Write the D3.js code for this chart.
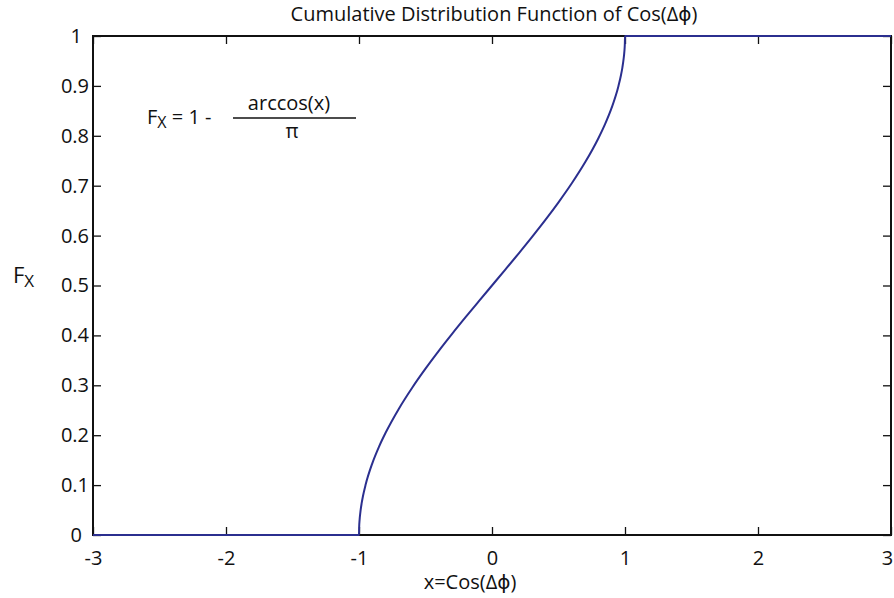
<!DOCTYPE html>
<html>
<head>
<meta charset="utf-8">
<script src="https://cdn.jsdelivr.net/npm/d3@7"></script>
<style>
  html, body { margin: 0; padding: 0; background: #fff; }
  svg text { font-family: "Open Sans", "DejaVu Sans", sans-serif; fill: #111; }
</style>
</head>
<body>
<svg id="chart" width="894" height="598"></svg>
<script>
// CDF of cos(Δϕ): sampled points of the curve
const xValues = [-3, -1, -0.999, -0.995, -0.99, -0.98, -0.97, -0.95, -0.9, -0.85, -0.8, -0.7, -0.6, -0.5, -0.4, -0.3, -0.2, -0.1,
                 0, 0.1, 0.2, 0.3, 0.4, 0.5, 0.6, 0.7, 0.8, 0.85, 0.9, 0.95, 0.97, 0.98, 0.99, 0.995, 0.999, 1, 3];
const yValues = [0, 0, 0.0142, 0.0319, 0.0450, 0.0638, 0.0782, 0.1011, 0.1436, 0.1766, 0.2048, 0.2532, 0.2952, 0.3333, 0.3690, 0.4030, 0.4359, 0.4681,
                 0.5, 0.5319, 0.5641, 0.5970, 0.6310, 0.6667, 0.7048, 0.7468, 0.7952, 0.8234, 0.8564, 0.8989, 0.9218, 0.9362, 0.9550, 0.9681, 0.9858, 1, 1];
const xTicks = [-3, -2, -1, 0, 1, 2, 3];
const yTicks = [0, 0.1, 0.2, 0.3, 0.4, 0.5, 0.6, 0.7, 0.8, 0.9, 1];
const xTickLabels = ["-3", "-2", "-1", "0", "1", "2", "3"];
const yTickLabels = ["0", "0.1", "0.2", "0.3", "0.4", "0.5", "0.6", "0.7", "0.8", "0.9", "1"];

const svg = d3.select("#chart");
const plotLeft = 93, plotRight = 891, plotTop = 36, plotBottom = 535;
const fontSize = 20;
const tickLen = 8;

const x = d3.scaleLinear().domain([-3, 3]).range([plotLeft, plotRight]);
const y = d3.scaleLinear().domain([0, 1]).range([plotBottom, plotTop]);

// inward ticks on all four sides
const g = svg.append("g");
function styleAxis(sel) {
  sel.select(".domain").remove();
  sel.selectAll(".tick line").attr("stroke", "#111").attr("stroke-width", 1.3);
  sel.selectAll(".tick text").style("font-size", fontSize + "px").attr("fill", "#111");
}
g.append("g").attr("transform", `translate(0,${plotBottom})`)
  .call(d3.axisBottom(x).tickValues(xTicks).tickSizeInner(-tickLen).tickPadding(16)
    .tickFormat((d, i) => xTickLabels[i]))
  .call(styleAxis)
  // keep the last label inside the page edge
  .call(sel => sel.selectAll(".tick text")
    .attr("x", (d, i) => i === xTicks.length - 1 ? -4 : 0));
g.append("g").attr("transform", `translate(0,${plotTop})`)
  .call(d3.axisTop(x).tickValues(xTicks).tickSizeInner(-tickLen).tickFormat(""))
  .call(styleAxis);
g.append("g").attr("transform", `translate(${plotLeft},0)`)
  .call(d3.axisLeft(y).tickValues(yTicks).tickSizeInner(-tickLen).tickPadding(4)
    .tickFormat((d, i) => yTickLabels[i]))
  .call(styleAxis)
  .call(sel => sel.selectAll(".tick text")
    .attr("x", (d, i) => yTickLabels[i].length === 1 ? -11 : -4));
g.append("g").attr("transform", `translate(${plotRight},0)`)
  .call(d3.axisRight(y).tickValues(yTicks).tickSizeInner(-tickLen).tickFormat(""))
  .call(styleAxis);

// plot frame
svg.append("rect")
  .attr("x", plotLeft).attr("y", plotTop)
  .attr("width", plotRight - plotLeft).attr("height", plotBottom - plotTop)
  .attr("fill", "none").attr("stroke", "#111").attr("stroke-width", 2);

// curve, drawn over the frame
const pts = xValues.map((v, i) => [v, yValues[i]]);
svg.append("path")
  .datum(pts)
  .attr("fill", "none")
  .attr("stroke", "#2b2f8f")
  .attr("stroke-width", 2)
  .attr("stroke-linejoin", "round")
  .attr("d", d3.line().x(d => x(d[0])).y(d => y(d[1])).curve(d3.curveMonotoneX));

// title and axis labels
svg.append("text").attr("x", 494).attr("y", 21).attr("text-anchor", "middle")
  .style("font-size", fontSize + "px").text("Cumulative Distribution Function of Cos(Δϕ)");
svg.append("text").attr("x", 470).attr("y", 589).attr("text-anchor", "middle")
  .style("font-size", fontSize + "px").text("x=Cos(Δϕ)");

const yl = svg.append("text").attr("x", 13).attr("y", 283).style("font-size", "22px");
yl.append("tspan").text("F");
yl.append("tspan").attr("dy", 4).style("font-size", "17px").text("X");

// formula annotation
const f = svg.append("text").attr("x", 147).attr("y", 124).style("font-size", fontSize + "px");
f.append("tspan").text("F");
f.append("tspan").attr("dy", 4).style("font-size", "16px").text("X");
f.append("tspan").attr("dy", -4).text(" = 1 -");
svg.append("text").attr("x", 289).attr("y", 110).attr("text-anchor", "middle")
  .style("font-size", fontSize + "px").text("arccos(x)");
svg.append("line").attr("x1", 233).attr("x2", 356).attr("y1", 118).attr("y2", 118)
  .attr("stroke", "#111").attr("stroke-width", 1.5);
svg.append("text").attr("x", 292).attr("y", 138).attr("text-anchor", "middle")
  .style("font-size", fontSize + "px").text("π");
</script>
</body>
</html>
